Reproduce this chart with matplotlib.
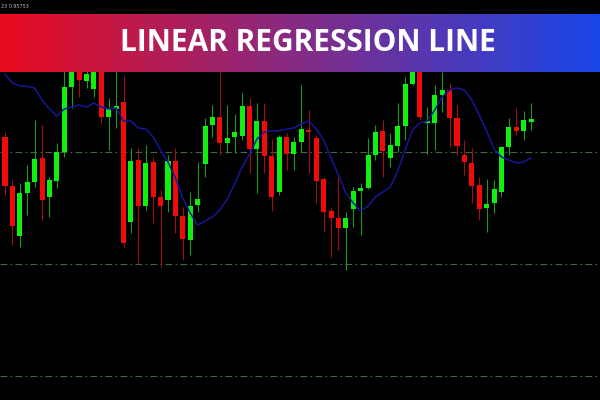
import matplotlib
matplotlib.use("Agg")
import matplotlib.pyplot as plt
import numpy as np
from matplotlib.colors import LinearSegmentedColormap

# candle data (price in chart points)
opens = [263, 214, 164, 207, 218, 242, 203, 219, 248, 313, 338, 319, 311, 340, 283, 291, 298, 178,
         240, 194, 238, 203, 200, 239, 184, 160, 195, 236, 275, 283, 257, 263, 264, 294, 251, 279,
         244, 208, 263, 246, 258, 270, 262, 221, 189, 182, 172, 191, 209, 212, 245, 269, 242, 254,
         274, 316, 340, 277, 277, 305, 310, 282, 245, 237, 215, 192, 197, 208, 253, 273, 269, 278]
highs = [268, 220, 217, 235, 280, 275, 223, 257, 340, 355, 350, 340, 350, 350, 302, 330, 324, 252,
         252, 255, 243, 210, 245, 252, 193, 208, 238, 282, 295, 328, 295, 286, 307, 302, 297, 297,
         261, 265, 267, 263, 315, 290, 265, 223, 193, 223, 188, 213, 217, 262, 275, 280, 267, 297,
         323, 350, 350, 293, 315, 328, 317, 295, 260, 252, 223, 221, 220, 254, 282, 292, 289, 297]
lows = [205, 155, 153, 185, 213, 180, 183, 212, 243, 292, 303, 312, 303, 277, 250, 272, 152, 167,
        137, 190, 177, 133, 188, 167, 140, 145, 188, 223, 263, 245, 247, 247, 260, 227, 207, 227,
        189, 205, 230, 230, 248, 227, 197, 168, 143, 150, 130, 173, 165, 211, 240, 223, 233, 248,
        260, 315, 280, 246, 250, 288, 253, 245, 225, 197, 180, 168, 187, 203, 245, 265, 260, 270]
closes = [214, 174, 207, 218, 241, 200, 220, 248, 313, 345, 320, 326, 340, 283, 291, 294, 157, 239,
          194, 237, 203, 194, 239, 184, 161, 194, 201, 274, 283, 257, 262, 268, 294, 251, 279, 244,
          203, 263, 246, 258, 271, 268, 219, 188, 182, 172, 182, 209, 212, 245, 268, 249, 255, 274,
          316, 340, 283, 279, 305, 310, 282, 254, 238, 214, 191, 196, 211, 253, 273, 269, 280, 281]

# linear regression line value per bar
lrl = [326, 317, 314, 313.5, 312, 300, 291, 284, 291, 293, 295, 293, 297, 293, 291, 292, 279, 279,
       272, 271, 263, 250, 238, 222, 202, 187, 175, 179, 183, 190, 201, 216, 233, 246, 261, 268,
       269, 269, 271, 272, 276, 279, 271, 260, 242, 225, 207, 197, 189, 194, 203, 208, 213, 229,
       250, 270, 277, 279, 290, 303, 310, 312, 310, 300, 285, 269, 251, 243, 240, 237, 238, 242]

levels = [248, 136, 24]
title = "LINEAR REGRESSION LINE"
corner_text = "23 0.95753"

fig = plt.figure(figsize=(6, 4), dpi=100, facecolor="black")
ax = fig.add_axes([0, 0, 1, 1])
ax.set_facecolor("black")

x = np.arange(len(opens))
for i in x:
    up = closes[i] >= opens[i]
    body_c = "#0ef00e" if up else "#f00a0a"
    wick_c = "#1c9a1c" if up else "#a01212"
    ax.vlines(i, lows[i], highs[i], color=wick_c, lw=0.8, zorder=2)
    lo, hi = min(opens[i], closes[i]), max(opens[i], closes[i])
    ax.bar(i, max(hi - lo, 1.5), bottom=lo, width=0.68, color=body_c, zorder=3)

ax.plot(x, lrl, color="#16169a", lw=1.1, zorder=4)

for lv in levels:
    ax.axhline(lv, color="#3f6a3f", lw=0.8, linestyle=(0, (6, 3, 1.5, 3)), zorder=1)

ax.set_xlim(-0.675, 80.3)
ax.set_ylim(0, 400)
ax.axis("off")

# gradient banner
bax = fig.add_axes([0, (400 - 72) / 400, 1, 58 / 400])
cmap = LinearSegmentedColormap.from_list(
    "ban", [(0, "#ea0c1f"), (0.5, "#842c86"), (1, "#1846e8")])
bax.imshow(np.linspace(0, 1, 256).reshape(1, -1), aspect="auto", cmap=cmap, extent=[0, 1, 0, 1])
bax.axis("off")
bax.text(0.513, 0.5, title, color="white", fontsize=21.5, fontweight="bold",
         family="Open Sans", ha="center", va="center", transform=bax.transAxes)

fig.text(0.002, 0.99, corner_text, color="#bbbbbb", fontsize=3.5, va="top", ha="left")

fig.savefig("out.png", dpi=100, facecolor="black")
